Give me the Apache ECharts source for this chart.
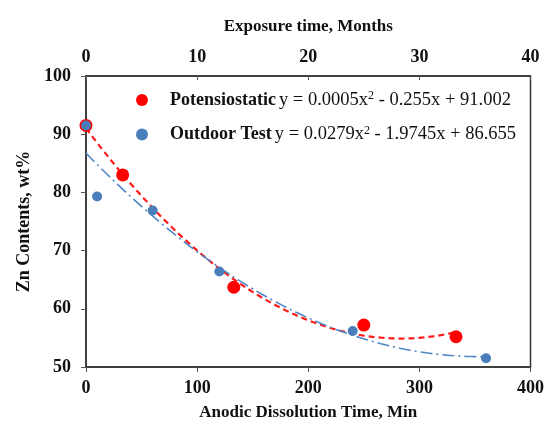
<!DOCTYPE html>
<html><head><meta charset="utf-8">
<script src="https://cdn.jsdelivr.net/npm/echarts@6/dist/echarts.min.js"></script>
<style>html,body{margin:0;padding:0;background:#fff}#c{width:547px;height:426px}</style>
</head><body><div id="c"></div>
<script>
// Potensiostatic: anodic dissolution time (min) vs Zn content
const potTime = [0, 33, 133, 250, 333];
const potZn = [91.5, 83.0, 63.7, 57.2, 55.2];
// Outdoor test: exposure time (months) vs Zn content
const outTime = [0, 1, 6, 12, 24, 36];
const outZn = [91.5, 79.3, 76.9, 66.4, 56.2, 51.5];
const seriesNames = ['Potensiostatic', 'Outdoor Test'];
const equations = ['y = 0.0005x{s|2} - 0.255x + 91.002', 'y = 0.0279x{s|2} - 1.9745x + 86.655'];
const bottomTitle = 'Anodic Dissolution Time, Min';
const topTitle = 'Exposure time, Months';
const yTitle = 'Zn Contents, wt%';

// least-squares quadratic fit (Excel-style polynomial trendline)
function quadFit(xs, ys) {
  let S = [0,0,0,0,0], T = [0,0,0];
  for (let i = 0; i < xs.length; i++) {
    let p = 1;
    for (let k = 0; k < 5; k++) { S[k] += p; if (k < 3) T[k] += p * ys[i]; p *= xs[i]; }
  }
  const A = [[S[0],S[1],S[2],T[0]],[S[1],S[2],S[3],T[1]],[S[2],S[3],S[4],T[2]]];
  for (let i = 0; i < 3; i++) {
    for (let j = i + 1; j < 3; j++) {
      const f = A[j][i] / A[i][i];
      for (let k = i; k < 4; k++) A[j][k] -= f * A[i][k];
    }
  }
  const c = [0,0,0];
  for (let i = 2; i >= 0; i--) {
    let s = A[i][3];
    for (let k = i + 1; k < 3; k++) s -= A[i][k] * c[k];
    c[i] = s / A[i][i];
  }
  return c;
}
function trend(xs, ys, n) {
  const c = quadFit(xs, ys);
  const x0 = Math.min(...xs), x1 = Math.max(...xs);
  const out = [];
  for (let i = 0; i <= n; i++) {
    const x = x0 + (x1 - x0) * i / n;
    out.push([x, c[0] + c[1] * x + c[2] * x * x]);
  }
  return out;
}

const F = "'Liberation Serif','Times New Roman',serif";
const chart = echarts.init(document.getElementById('c'), null, {renderer: 'canvas'});
const lbl = {fontFamily: F, fontWeight: 'bold', fontSize: 18, color: '#111'};
chart.setOption({
  animation: false,
  backgroundColor: '#fff',
  grid: {left: 86, right: 15, top: 76, bottom: 58, show: true, borderColor: '#333', borderWidth: 1.5},
  legend: {
    orient: 'vertical', left: 131, top: 85, itemGap: 15,
    itemWidth: 12, itemHeight: 12,
    data: [{name: seriesNames[0], icon: 'circle'}, {name: seriesNames[1], icon: 'circle'}],
    formatter: function (name) {
      const i = seriesNames.indexOf(name);
      return '{b|' + name + '} {n|' + equations[i].replace('{s|2}', '}{s|2}{n|') + '}';
    },
    textStyle: {
      fontFamily: F, color: '#111',
      rich: {
        b: {fontFamily: F, fontWeight: 'bold', fontSize: 18, color: '#111', padding: [0, 0, 0, 17]},
        n: {fontFamily: F, fontSize: 18.5, color: '#111'},
        s: {fontFamily: F, fontSize: 12, color: '#111', verticalAlign: 'top', padding: [0, 0, 8, 0]}
      }
    }
  },
  xAxis: [
    {type: 'value', position: 'bottom', min: 0, max: 400, interval: 100,
     name: bottomTitle, nameLocation: 'middle', nameGap: 37,
     nameTextStyle: {fontFamily: F, fontWeight: 'bold', fontSize: 17, color: '#111'},
     axisLine: {show: true, onZero: false, lineStyle: {color: '#333', width: 1.5}},
     axisTick: {show: true, length: 5, lineStyle: {color: '#555'}},
     axisLabel: Object.assign({margin: 12}, lbl), splitLine: {show: false}},
    {type: 'value', position: 'top', min: 0, max: 40, interval: 10,
     name: topTitle, nameLocation: 'middle', nameGap: 41,
     nameTextStyle: {fontFamily: F, fontWeight: 'bold', fontSize: 17, color: '#111'},
     axisLine: {show: true, onZero: false, lineStyle: {color: '#333', width: 1.5}},
     axisTick: {show: true, length: 4, inside: true, lineStyle: {color: '#555'}},
     axisLabel: Object.assign({margin: 10}, lbl), splitLine: {show: false}}
  ],
  yAxis: {type: 'value', min: 50, max: 100, interval: 10,
    name: yTitle, nameLocation: 'middle', nameGap: 52, nameRotate: 90,
    nameTextStyle: {fontFamily: F, fontWeight: 'bold', fontSize: 18, color: '#111'},
    axisLine: {show: true, onZero: false, lineStyle: {color: '#333', width: 1.5}},
    axisTick: {show: true, length: 5, lineStyle: {color: '#555'}},
    axisLabel: Object.assign({margin: 15}, lbl), splitLine: {show: false}},
  series: [
    {name: 'potTrend', type: 'line', xAxisIndex: 0, data: trend(potTime, potZn, 80),
     showSymbol: false, symbol: 'none', smooth: false, z: 2,
     lineStyle: {color: '#ff1a1a', width: 2.2, type: [6, 4]}},
    {name: 'outTrend', type: 'line', xAxisIndex: 1, data: trend(outTime, outZn, 80),
     showSymbol: false, symbol: 'none', smooth: false, z: 2,
     lineStyle: {color: '#4f86c6', width: 1.6, type: [12, 4, 2, 4]}},
    {name: seriesNames[0], type: 'scatter', xAxisIndex: 0, symbolSize: 13, z: 3,
     itemStyle: {color: '#ff0000', opacity: 1},
     data: potTime.map((t, i) => [t, potZn[i]])},
    {name: seriesNames[1], type: 'scatter', xAxisIndex: 1, symbolSize: 10, z: 4,
     itemStyle: {color: '#4a7ebb', opacity: 1},
     data: outTime.map((t, i) => [t, outZn[i]])}
  ]
});
</script></body></html>
